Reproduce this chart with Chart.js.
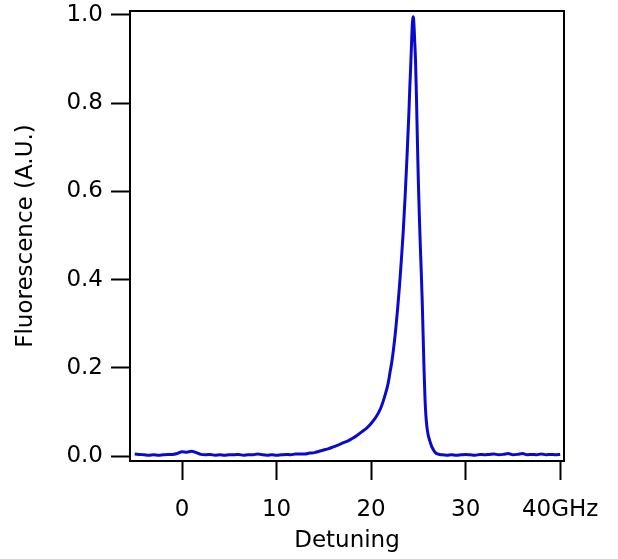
<!DOCTYPE html>
<html>
<head>
<meta charset="utf-8">
<script src="https://cdn.jsdelivr.net/npm/chart.js@4"></script>
<style>
  body { margin: 0; background: #fff; }
  #wrap { width: 618px; height: 559px; }
</style>
</head>
<body>
<div id="wrap"><canvas id="lineChart" width="618" height="559"></canvas></div>
<script>
// Detuning (GHz) and fluorescence (A.U.)
const detuning = [
  -5, -4.5, -4, -3.5, -3, -2.5, -2, -1.5, -1, -0.5,
  0, 0.5, 1, 1.5, 2, 2.5, 3, 3.5, 4, 4.5,
  5, 5.5, 6, 6.5, 7, 7.5, 8, 8.5, 9, 9.5,
  10, 10.5, 11, 11.5, 12, 12.5, 13, 13.5, 14, 14.5,
  15, 15.5, 16, 16.5, 17, 17.5, 18, 18.5, 19, 19.5,
  20, 20.5, 21, 21.5, 21.8, 22, 22.2, 22.4, 22.6, 22.8,
  23, 23.2, 23.4, 23.6, 23.8, 24, 24.1, 24.2, 24.3, 24.35,
  24.4, 24.45, 24.5, 24.55, 24.6, 24.7, 24.8, 24.9, 25, 25.1,
  25.2, 25.3, 25.4, 25.5, 25.6, 25.7, 25.8, 25.9, 26, 26.2,
  26.4, 26.6, 26.8, 27, 27.5, 28, 28.5, 29, 29.5, 30,
  30.5, 31, 31.5, 32, 32.5, 33, 33.5, 34, 34.5, 35,
  35.5, 36, 36.5, 37, 37.5, 38, 38.5, 39, 39.5, 40
];
const fluorescence = [
  0.005, 0.004, 0.003, 0.002, 0.003, 0.002, 0.003, 0.004, 0.004, 0.006,
  0.010, 0.009, 0.011, 0.008, 0.004, 0.003, 0.004, 0.002, 0.003, 0.002,
  0.003, 0.003, 0.004, 0.002, 0.003, 0.003, 0.005, 0.003, 0.002, 0.003,
  0.002, 0.003, 0.004, 0.003, 0.005, 0.005, 0.005, 0.007, 0.008, 0.011,
  0.014, 0.017, 0.021, 0.025, 0.030, 0.034, 0.040, 0.047, 0.055, 0.063,
  0.074, 0.088, 0.108, 0.140, 0.165, 0.190, 0.215, 0.248, 0.287, 0.333,
  0.385, 0.445, 0.510, 0.590, 0.680, 0.780, 0.840, 0.890, 0.950, 0.975,
  0.990, 0.996, 0.990, 0.970, 0.945, 0.895, 0.810, 0.710, 0.620, 0.545,
  0.480, 0.420, 0.355, 0.275, 0.195, 0.130, 0.090, 0.067, 0.052, 0.035,
  0.022, 0.014, 0.008, 0.005, 0.003, 0.002, 0.003, 0.002, 0.003, 0.004,
  0.003, 0.002, 0.004, 0.003, 0.004, 0.005, 0.003, 0.004, 0.006, 0.003,
  0.004, 0.006, 0.003, 0.004, 0.003, 0.005, 0.003, 0.004, 0.003, 0.004
];
const xTicks = [0, 10, 20, 30, 40];
const yTicks = [0, 0.2, 0.4, 0.6, 0.8, 1.0];

const FONT = 'DejaVu Sans';

// box around the plot area
const frame = {
  id: 'frame',
  afterDatasetsDraw(chart) {
    const a = chart.chartArea;
    const ctx = chart.ctx;
    ctx.save();
    ctx.strokeStyle = '#000';
    ctx.lineWidth = 2;
    ctx.strokeRect(a.left, a.top, a.right - a.left, a.bottom - a.top);
    ctx.restore();
  }
};

const ctx = document.getElementById('lineChart').getContext('2d');
const chart = new Chart(ctx, {
  type: 'line',
  data: {
    datasets: [{
      data: detuning.map((x, i) => ({ x: x, y: fluorescence[i] })),
      borderColor: '#0a0acc',
      borderWidth: 3,
      pointRadius: 0,
      cubicInterpolationMode: 'monotone',
      fill: false
    }]
  },
  options: {
    responsive: false,
    animation: false,
    layout: { padding: { top: 11, right: 54, left: 0, bottom: 0 } },
    plugins: { legend: { display: false }, tooltip: { enabled: false } },
    scales: {
      x: {
        type: 'linear',
        min: -5.5,
        max: 40.4,
        afterBuildTicks: s => { s.ticks = xTicks.map(v => ({ value: v })); },
        afterFit: s => { s.height = 98; s.paddingLeft = 0; s.paddingRight = 0; },
        grid: { drawOnChartArea: false, drawTicks: true, tickLength: 19, tickWidth: 2, tickColor: '#000' },
        border: { display: false },
        ticks: {
          padding: 16,
          color: '#000',
          maxRotation: 0,
          font: { family: FONT, size: 23 },
          callback: v => v === 40 ? '40GHz' : String(v)
        },
        title: {
          display: true,
          text: 'Detuning',
          color: '#000',
          font: { family: FONT, size: 23 },
          padding: { top: 0, bottom: 4 }
        }
      },
      y: {
        min: -0.011,
        max: 1.009,
        afterBuildTicks: s => { s.ticks = yTicks.map(v => ({ value: v })); },
        afterFit: s => { s.width = 130; s.paddingTop = 0; s.paddingBottom = 0; },
        grid: { drawOnChartArea: false, drawTicks: true, tickLength: 19, tickWidth: 2, tickColor: '#000' },
        border: { display: false },
        ticks: {
          padding: 8,
          color: '#000',
          font: { family: FONT, size: 23 },
          callback: v => v.toFixed(1)
        },
        title: {
          display: true,
          text: 'Fluorescence (A.U.)',
          color: '#000',
          font: { family: FONT, size: 23 },
          padding: { top: 12, bottom: 0 }
        }
      }
    }
  },
  plugins: [frame]
});
</script>
</body>
</html>
